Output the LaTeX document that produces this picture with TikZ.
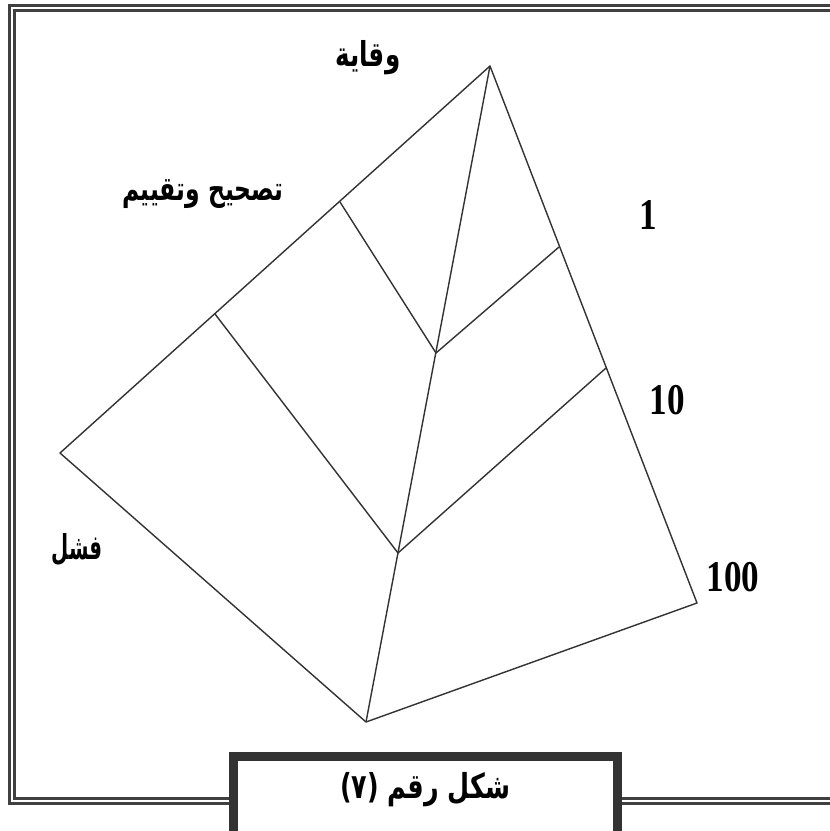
\documentclass[tikz,border=0pt]{standalone}
\usepackage{fontspec}
\usepackage{graphicx}
\setmainfont{Liberation Serif}
\newfontfamily\arabicfont[Script=Arabic]{DejaVu Sans}
\TeXXeTstate=1
\usetikzlibrary{positioning}

\tikzset{
  edge/.style={draw=black!80, line width=0.8pt, line join=round},
  frameline/.style={draw=black!75, line width=1.7pt},
  arlabel/.style={font=\arabicfont\bfseries\fontsize{15}{18}\selectfont, inner sep=0pt},
  numlabel/.style={font=\bfseries\fontsize{20}{24}\selectfont, inner sep=0pt}
}

\begin{document}
\begin{tikzpicture}[x=0.02cm, y=-0.02cm]

		\clip (0,0) rectangle (830,831);
		\fill[white] (0,0) rectangle (830,831);

		% Double frame round the figure
		\draw[frameline] (9.5,5.5) rectangle (850,803.5);
		\draw[frameline] (14.5,10.5) rectangle (845,798.5);

		% Corners of the pyramid
		\coordinate (A)  at (490,66);
		\coordinate (L)  at (60,453);
		\coordinate (B)  at (366,722);
		\coordinate (R)  at (697,603);

		% Points on the edges and the two joints
		\coordinate (M1) at (340,202);
		\coordinate (M2) at (215,314);
		\coordinate (K1) at (559,247);
		\coordinate (K2) at (606,368);
		\coordinate (J1) at (436,353);
		\coordinate (J2) at (398,553);

		% Outline and front edge
		\draw[edge] (A)--(L)--(B)--(R)--cycle;
		\draw[edge] (A)--(B);

		% Cross lines
		\draw[edge] (M1)--(J1)--(K1);
		\draw[edge] (M2)--(J2)--(K2);

		% Labels
		\node[arlabel] (lblWiqaya) at (368,58) {\scalebox{0.93}[1.3]{\beginR وقاية\endR}};
		\node[arlabel] (lblTashih) at (203,194) {\scalebox{0.89}[1.25]{\beginR تصحيح وتقييم\endR}};
		\node[arlabel] (lblFashal) at (77,550) {\scalebox{0.75}[1.3]{\beginR فشل\endR}};
		\node[numlabel] (lblOne) at (648,215) {\scalebox{1}[1.25]{1}};
		\node[numlabel] (lblTen) at (667,400) {\scalebox{1}[1.25]{10}};
		\node[numlabel] (lblHundred) at (733,577) {\scalebox{1}[1.25]{100}};

		% Caption box
		\draw[draw=black!80, line width=4.8pt, fill=white] (233.5,756.5) rectangle (617.5,850);
		\node[font=\arabicfont\bfseries\fontsize{17}{20}\selectfont] (caption) at (425,790) {\scalebox{0.85}[1.15]{\beginR شكل رقم (٧)\endR}};

	\end{tikzpicture}
\end{document}
